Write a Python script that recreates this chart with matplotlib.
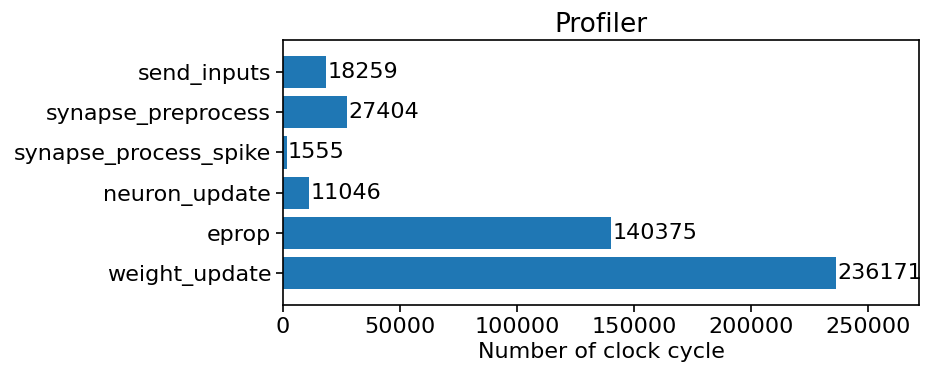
import matplotlib
matplotlib.use('Agg')
import matplotlib.pyplot as plt

# data, top to bottom as shown
names = ['send_inputs', 'synapse_preprocess', 'synapse_process_spike',
         'neuron_update', 'eprop', 'weight_update']
cycles = [18259, 27404, 1555, 11046, 140375, 236171]

names = names[::-1]
cycles = cycles[::-1]

fig = plt.figure(figsize=(9.35, 3.78), dpi=100)
ax = fig.add_axes([0.3027, 0.193, 0.6802, 0.701])

bars = ax.barh(names, cycles, height=0.8, color='#1f77b4')
ax.bar_label(bars, labels=[str(c) for c in cycles], fontsize=16, padding=1)

ax.set_xlim(0, 271800)
ax.set_ylim(-0.8, 5.8)
ax.set_title('Profiler', fontsize=19)
ax.set_xlabel('Number of clock cycle', fontsize=16)
ax.tick_params(labelsize=16, length=5, width=1.2)
for s in ax.spines.values():
    s.set_linewidth(1.2)

plt.savefig('out.png', dpi=100)
